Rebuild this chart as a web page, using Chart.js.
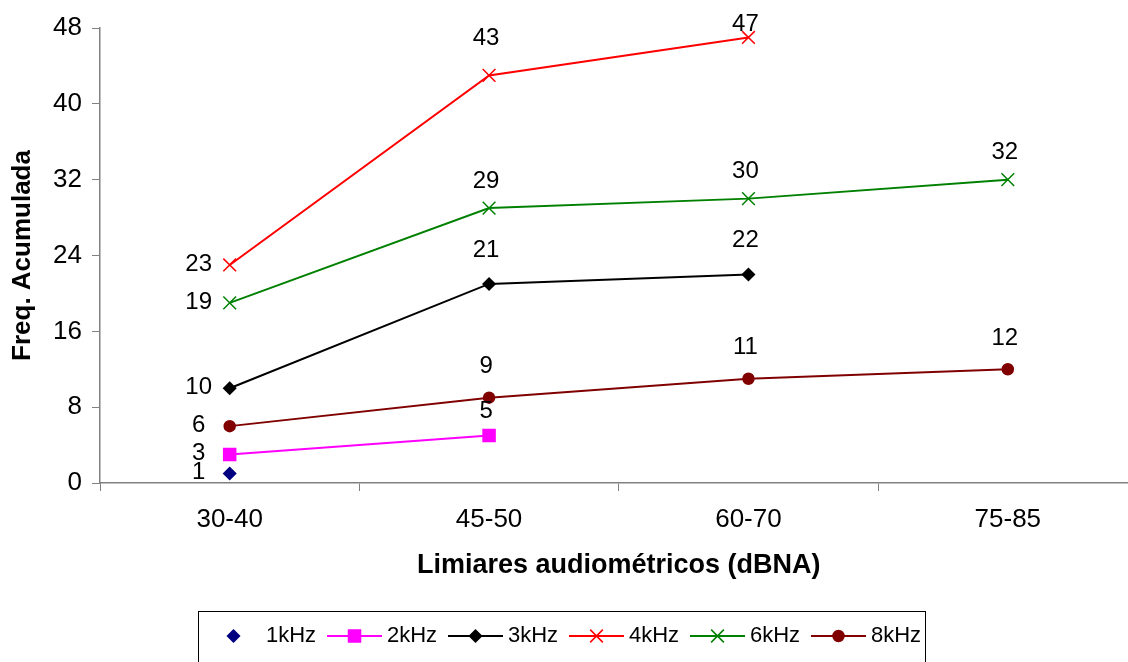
<!DOCTYPE html>
<html>
<head>
<meta charset="utf-8">
<script src="https://cdn.jsdelivr.net/npm/chart.js@4.4.0/dist/chart.umd.min.js"></script>
<style>
  html, body { margin: 0; padding: 0; background: #fff; overflow: hidden; }
  #wrap { position: relative; width: 1148px; height: 662px; }
</style>
</head>
<body>
<div id="wrap"><canvas id="chart"></canvas></div>
<script>
const categories = ['30-40', '45-50', '60-70', '75-85']
const freq1k = [1]
const freq2k = [3, 5]
const freq3k = [10, 21, 22]
const freq4k = [23, 43, 47]
const freq6k = [19, 29, 30, 32]
const freq8k = [6, 9, 11, 12]
const yTicks = [0, 8, 16, 24, 32, 40, 48]

const FONT = '"Liberation Sans", Arial, sans-serif'
const AXIS_GREY = '#808080'

function series (label, data, color, pointStyle, radius, labelLift, showLine = true) {
  return {
    label,
    data,
    borderColor: color,
    backgroundColor: color,
    pointStyle,
    pointRadius: radius,
    pointHoverRadius: radius,
    pointBorderWidth: 1.5,
    borderWidth: 2,
    showLine,
    tension: 0,
    fill: false,
    labelLift
  }
}

// value next to each point: first column sits to the left, the rest above
const valueLabels = {
  id: 'valueLabels',
  afterDatasetsDraw (chart) {
    const { ctx, chartArea } = chart
    ctx.save()
    ctx.font = '24px ' + FONT
    ctx.fillStyle = '#000'
    ctx.textAlign = 'center'
    ctx.textBaseline = 'middle'
    chart.data.datasets.forEach((ds, i) => {
      chart.getDatasetMeta(i).data.forEach((pt, j) => {
        const text = String(ds.data[j])
        if (j === 0) {
          ctx.fillText(text, pt.x - 31, pt.y - 1)
        } else {
          ctx.fillText(text, pt.x - 3, Math.max(pt.y - ds.labelLift, chartArea.top - 4))
        }
      })
    })
    ctx.restore()
  }
}

// boxed legend below the axis title, line + marker for each series
const legendBox = {
  id: 'legendBox',
  afterDraw (chart) {
    const { ctx } = chart
    const left = 198
    const top = 611
    const step = 121
    const lineLen = 55
    const y = 636
    ctx.save()
    ctx.strokeStyle = '#000'
    ctx.lineWidth = 1
    ctx.strokeRect(left + 0.5, top + 0.5, 727, 60)
    chart.data.datasets.forEach((ds, i) => {
      const x0 = left + 8 + step * i
      ctx.strokeStyle = ds.borderColor
      ctx.fillStyle = ds.backgroundColor
      if (ds.showLine) {
        ctx.lineWidth = ds.borderWidth
        ctx.beginPath()
        ctx.moveTo(x0, y)
        ctx.lineTo(x0 + lineLen, y)
        ctx.stroke()
      }
      ctx.lineWidth = ds.pointBorderWidth
      Chart.helpers.drawPoint(ctx, {
        pointStyle: ds.pointStyle,
        rotation: 0,
        radius: ds.pointRadius,
        borderWidth: ds.pointBorderWidth
      }, x0 + lineLen / 2, y)
      ctx.fillStyle = '#000'
      ctx.font = '22px ' + FONT
      ctx.textAlign = 'left'
      ctx.textBaseline = 'middle'
      ctx.fillText(ds.label, x0 + lineLen + 5, y)
    })
    ctx.restore()
  }
}

new Chart(document.getElementById('chart'), {
  type: 'line',
  data: {
    labels: categories,
    datasets: [
      series('1kHz', freq1k, '#000080', 'rectRot', 6, 28, false),
      series('2kHz', freq2k, '#FF00FF', 'rect', 8.5, 24),
      series('3kHz', freq3k, '#000000', 'rectRot', 6, 34),
      series('4kHz', freq4k, '#FF0000', 'crossRot', 9, 37),
      series('6kHz', freq6k, '#008000', 'crossRot', 9, 27),
      series('8kHz', freq8k, '#800000', 'circle', 5.5, 31)
    ]
  },
  options: {
    responsive: true,
    maintainAspectRatio: false,
    animation: false,
    // canvas is wider than the window so the plot runs past the right edge
    layout: { padding: { top: 28, right: 0, bottom: 80, left: 0 } },
    plugins: {
      legend: { display: false },
      tooltip: { enabled: false }
    },
    scales: {
      x: {
        offset: true,
        grid: { offset: true, drawOnChartArea: false, tickLength: 8, color: AXIS_GREY },
        border: { color: AXIS_GREY, width: 1.5 },
        ticks: { padding: 13, color: '#000', font: { family: FONT, size: 26 } },
        title: {
          display: true,
          text: 'Limiares audiométricos (dBNA)',
          color: '#000',
          font: { family: FONT, size: 27, weight: 'bold' },
          padding: { top: 0, bottom: 0 }
        },
        afterFit (scale) { scale.height = 99 }
      },
      y: {
        min: yTicks[0],
        max: yTicks[yTicks.length - 1],
        grid: { drawOnChartArea: false, tickLength: 8, color: AXIS_GREY },
        border: { color: AXIS_GREY, width: 1.5 },
        ticks: { stepSize: yTicks[1] - yTicks[0], padding: 10, color: '#000', font: { family: FONT, size: 26 } },
        title: {
          display: true,
          text: 'Freq. Acumulada',
          color: '#000',
          font: { family: FONT, size: 26, weight: 'bold' },
          padding: { top: 7, bottom: 0 }
        },
        afterFit (scale) { scale.width = 100 }
      }
    }
  },
  plugins: [valueLabels, legendBox]
})
</script>
</body>
</html>
